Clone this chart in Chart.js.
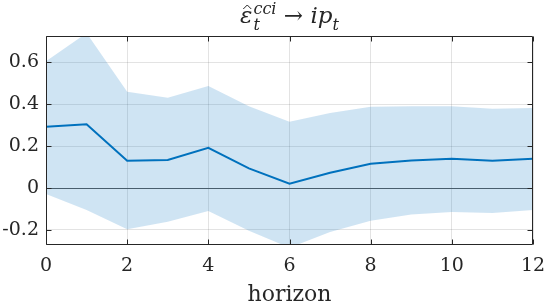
<!DOCTYPE html>
<html>
<head>
<meta charset="utf-8">
<script src="https://cdn.jsdelivr.net/npm/chart.js@4"></script>
<style>
  html, body { margin: 0; padding: 0; background: #fff; }
  #wrap { width: 545px; height: 307px; }
</style>
</head>
<body>
<div id="wrap"><canvas id="irf"></canvas></div>
<script>
// impulse response of ip_t to the cci shock, horizons 0..12
const horizons = [0, 1, 2, 3, 4, 5, 6, 7, 8, 9, 10, 11, 12];
const irfMean  = [0.293, 0.304, 0.130, 0.134, 0.192, 0.094, 0.021, 0.073, 0.116, 0.132, 0.140, 0.130, 0.140];
const irfUpper = [0.605, 0.740, 0.460, 0.431, 0.487, 0.391, 0.316, 0.358, 0.388, 0.390, 0.391, 0.379, 0.382];
const irfLower = [-0.029, -0.105, -0.197, -0.161, -0.110, -0.204, -0.285, -0.210, -0.156, -0.126, -0.115, -0.119, -0.105];
const xTicks = [0, 2, 4, 6, 8, 10, 12];
const yTicks = [-0.2, 0, 0.2, 0.4, 0.6];

const FONT = '"DejaVu Serif", "Liberation Serif", serif';
const INK = '#262626';
const BLUE = '#0072BD';

const toPts = arr => arr.map((v, i) => ({ x: horizons[i], y: v }));

// box, inward ticks, zero line, title and x label (MATLAB-style axes)
const axesDecor = {
  id: 'axesDecor',
  beforeDatasetDraw(chart, args) {
    if (args.index !== 2) return;
    const { ctx, chartArea: a, scales: { y } } = chart;
    const y0 = Math.round(y.getPixelForValue(0)) + 0.5;
    ctx.save();
    ctx.strokeStyle = '#5a5a5a';
    ctx.lineWidth = 1;
    ctx.beginPath();
    ctx.moveTo(a.left, y0);
    ctx.lineTo(a.right, y0);
    ctx.stroke();
    ctx.restore();
  },
  afterDraw(chart) {
    const { ctx, chartArea: a, scales: { x, y } } = chart;
    const L = Math.round(a.left) + 0.5, R = Math.round(a.right) - 0.5;
    const T = Math.round(a.top) + 0.5, B = Math.round(a.bottom) - 0.5;
    const tl = 5;
    ctx.save();
    ctx.strokeStyle = INK;
    ctx.lineWidth = 1;
    ctx.beginPath();
    ctx.rect(L, T, R - L, B - T);
    xTicks.forEach(v => {
      const px = Math.round(x.getPixelForValue(v)) + 0.5;
      ctx.moveTo(px, B); ctx.lineTo(px, B - tl);
      ctx.moveTo(px, T); ctx.lineTo(px, T + tl);
    });
    yTicks.forEach(v => {
      const py = Math.round(y.getPixelForValue(v)) + 0.5;
      ctx.moveTo(L, py); ctx.lineTo(L + tl, py);
      ctx.moveTo(R, py); ctx.lineTo(R - tl, py);
    });
    ctx.stroke();

    // x label
    ctx.fillStyle = INK;
    ctx.font = '22px ' + FONT;
    ctx.textAlign = 'center';
    ctx.textBaseline = 'alphabetic';
    ctx.fillText('horizon', (a.left + a.right) / 2, 301);

    // title: \hat{\varepsilon}_t^{cci} \rightarrow ip_t
    const big = 'italic 23px ' + FONT;
    const small = 'italic 16px ' + FONT;
    const roman = '23px ' + FONT;
    ctx.textAlign = 'left';
    ctx.font = big;   const wEps = ctx.measureText('ε').width;
    ctx.font = small; const wSup = Math.max(ctx.measureText('cci').width, ctx.measureText('t').width);
    ctx.font = roman; const wArr = ctx.measureText(' → ').width;
    ctx.font = big;   const wIp = ctx.measureText('ip').width;
    ctx.font = small; const wT = ctx.measureText('t').width;
    const total = wEps + 1 + wSup + wArr + wIp + wT;
    let cx = (a.left + a.right) / 2 - total / 2;
    const base = 23;
    ctx.font = big; ctx.fillText('ε', cx, base);
    // hat
    ctx.beginPath();
    ctx.lineWidth = 1;
    const hx = cx + wEps / 2 + 1;
    ctx.moveTo(hx - 4, base - 14); ctx.lineTo(hx, base - 18); ctx.lineTo(hx + 4, base - 14);
    ctx.stroke();
    cx += wEps + 1;
    ctx.font = small;
    ctx.fillText('cci', cx, base - 9);
    ctx.fillText('t', cx, base + 7);
    cx += wSup;
    ctx.font = roman; ctx.fillText(' → ', cx, base);
    cx += wArr;
    ctx.font = big; ctx.fillText('ip', cx, base);
    cx += wIp;
    ctx.font = small; ctx.fillText('t', cx, base + 7);
    ctx.restore();
  }
};

new Chart(document.getElementById('irf'), {
  type: 'line',
  data: {
    datasets: [
      {
        label: 'lower',
        data: toPts(irfLower),
        borderWidth: 0,
        pointRadius: 0,
        fill: false,
        clip: 0
      },
      {
        label: 'upper',
        data: toPts(irfUpper),
        borderWidth: 0,
        pointRadius: 0,
        fill: '-1',
        backgroundColor: 'rgba(0, 114, 189, 0.19)',
        clip: 0
      },
      {
        label: 'irf',
        data: toPts(irfMean),
        borderColor: BLUE,
        borderWidth: 2,
        pointRadius: 0,
        fill: false,
        tension: 0,
        clip: 0
      }
    ]
  },
  options: {
    responsive: true,
    maintainAspectRatio: false,
    animation: false,
    layout: { autoPadding: false, padding: { left: 0, right: 12, top: 36, bottom: 0 } },
    plugins: {
      legend: { display: false },
      tooltip: { enabled: false },
      title: { display: false }
    },
    scales: {
      x: {
        type: 'linear',
        min: 0,
        max: 12,
        afterBuildTicks: s => { s.ticks = xTicks.map(v => ({ value: v })); },
        afterFit: s => { s.height = 62; s.paddingLeft = 0; s.paddingRight = 0; },
        grid: { color: 'rgba(38,38,38,0.13)', drawTicks: false },
        border: { display: false },
        ticks: {
          padding: 10,
          maxRotation: 0,
          color: INK,
          font: { family: FONT, size: 19 }
        }
      },
      y: {
        min: -0.272,
        max: 0.726,
        afterBuildTicks: s => { s.ticks = yTicks.map(v => ({ value: v })); },
        afterFit: s => { s.width = 46; s.paddingTop = 0; s.paddingBottom = 0; },
        grid: {
          color: c => (c.tick && c.tick.value === 0) ? 'rgba(0,0,0,0)' : 'rgba(38,38,38,0.13)',
          drawTicks: false
        },
        border: { display: false },
        ticks: {
          padding: 7,
          color: INK,
          font: { family: FONT, size: 19 },
          callback: v => String(Math.round(v * 10) / 10)
        }
      }
    }
  },
  plugins: [axesDecor]
});
</script>
</body>
</html>
